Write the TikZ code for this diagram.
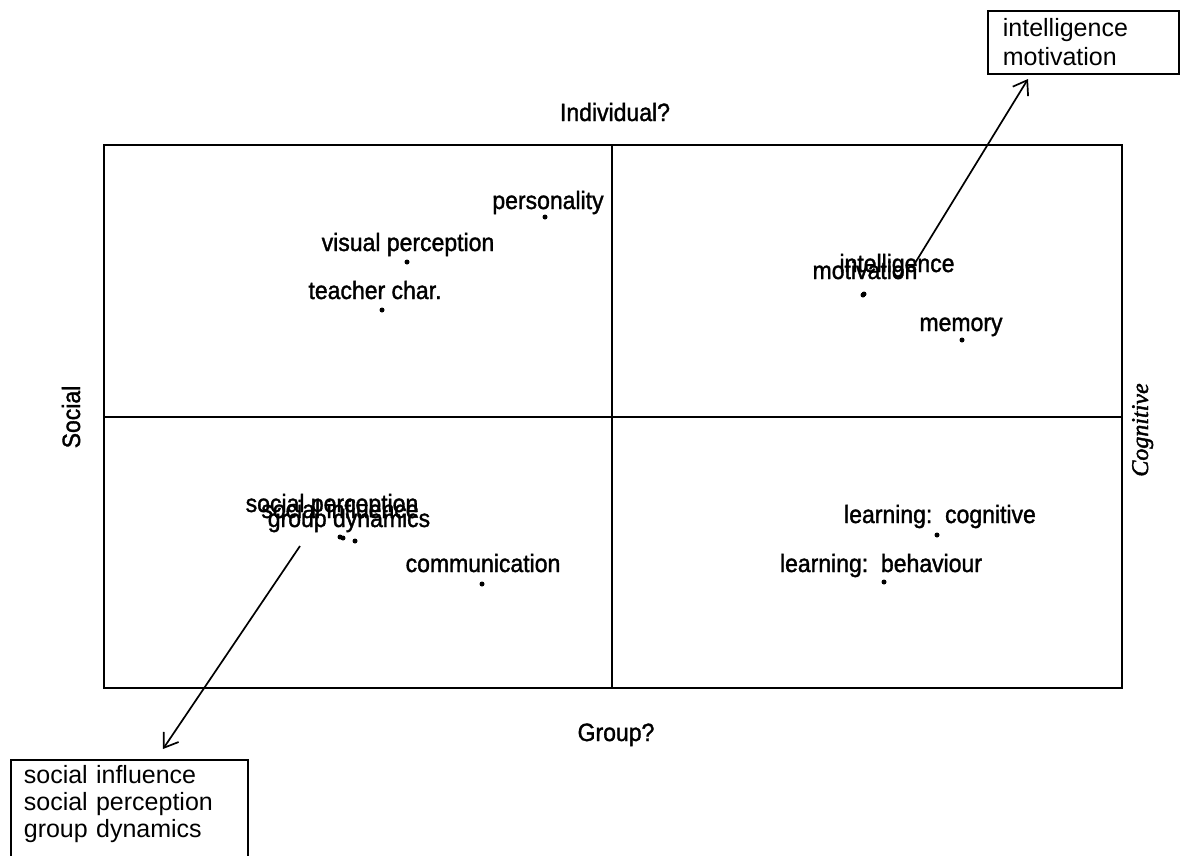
\documentclass[tikz,border=0pt]{standalone}
\usepackage{fontspec}
\setmainfont{Liberation Sans}
\newfontfamily\labfont[FakeStretch=0.92,FakeBold=1.4]{Liberation Sans}
\newfontfamily\handfont[FakeBold=1.8]{Liberation Serif}
\usetikzlibrary{arrows.meta}
\begin{document}
\begin{tikzpicture}[x=1pt,y=-1pt,
  lab/.style={font=\labfont\fontsize{25}{27}\selectfont, inner sep=0pt, anchor=base},
  dotmark/.style={circle, fill=black, inner sep=0pt, minimum size=5pt},
  frame/.style={line width=1.9pt},
  callout/.style={draw, line width=1.7pt, font=\fontsize{25}{27}\selectfont, align=left, anchor=north west},
  arr/.style={line width=1.7pt, -{Straight Barb[length=13pt,width=18pt]}}]
\useasboundingbox (0,0) rectangle (1183,855);
\clip (0,0) rectangle (1183,855);
\fill[white] (0,0) rectangle (1183,855);

% frame and quadrant lines
\coordinate (tl) at (104,145);
\coordinate (br) at (1122,688);
\coordinate (vt) at (612,145);
\coordinate (vb) at (612,688);
\coordinate (hl) at (104,417);
\coordinate (hr) at (1122,417);
\draw[frame] (tl) rectangle (br);
\draw[frame] (vt) -- (vb);
\draw[frame] (hl) -- (hr);

% axis labels
\node[lab] (indiv) at (615,121) {Individual?};
\node[lab] (group) at (616,741) {Group?};
\node[lab, rotate=90] (social) at (80,417) {Social};
\node[lab, rotate=90, font=\handfont\itshape\fontsize{24}{26}\selectfont] (cogn) at (1148,430) {Cognitive};

% points and labels
\node[lab] (personality) at (548,209) {personality};
\node[dotmark] (dPers) at (545,217) {};
\node[lab] (visual) at (408,251) {visual perception};
\node[dotmark] (dVis) at (407,262) {};
\node[lab] (teacher) at (375,299) {teacher char.};
\node[dotmark] (dTeach) at (382,310) {};
\node[lab] (intel) at (897,272) {intelligence};
\node[dotmark] (dIntel) at (863,295) {};
\node[lab] (motiv) at (865,279) {motivation};
\node[dotmark] (dMotiv) at (864,294) {};
\node[lab] (memory) at (961,331) {memory};
\node[dotmark] (dMem) at (962,340) {};
\node[lab] (lcog) at (940,523) {learning:\ \ cognitive};
\node[dotmark] (dLcog) at (937,535) {};
\node[lab] (lbeh) at (881,572) {learning:\ \ behaviour};
\node[dotmark] (dLbeh) at (884,582) {};
\node[lab] (comm) at (483,572) {communication};
\node[dotmark] (dComm) at (482,584) {};
\node[lab] (sperc) at (332,512) {social perception};
\node[dotmark] (dSperc) at (340,537) {};
\node[lab] (sinfl) at (340,518) {social influence};
\node[dotmark] (dSinfl) at (343,538) {};
\node[lab] (gdyn) at (349,527) {group dynamics};
\node[dotmark] (dGdyn) at (355,541) {};

% callout boxes
\node[callout, inner xsep=15pt, inner ysep=8pt, text width=161pt, font=\fontsize{25}{29}\selectfont] (topbox) at (987,10)
  {intelligence\\motivation};
\node[callout, inner xsep=13pt, inner ysep=6pt, text width=211pt] (botbox) at (10,759)
  {social influence\\social perception\\group dynamics\rule[-40pt]{0pt}{0pt}};

% arrows
\coordinate (a1s) at (912,268);
\coordinate (a1e) at (1028,79);
\coordinate (a2s) at (300,546);
\coordinate (a2e) at (163,749);
\draw[arr] (a1s) -- (a1e);
\draw[arr] (a2s) -- (a2e);
\end{tikzpicture}
\end{document}
